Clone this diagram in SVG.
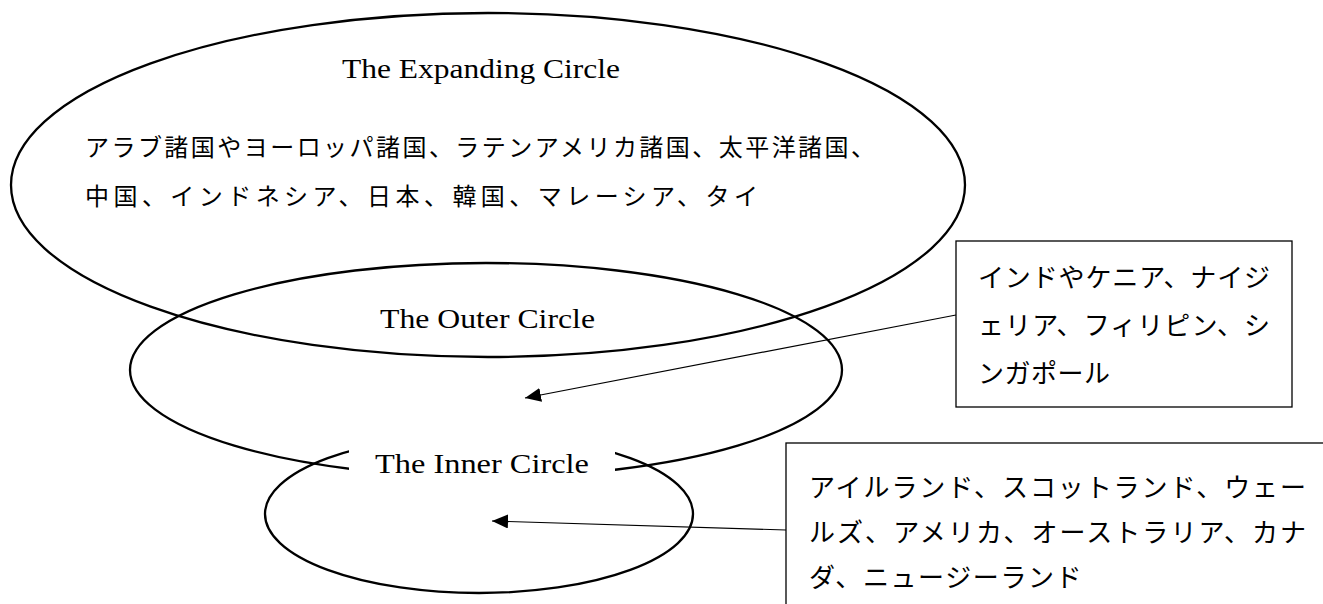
<svg xmlns="http://www.w3.org/2000/svg" width="1323" height="604" viewBox="0 0 1323 604">
<style>
.ell{fill:none;stroke:#000;stroke-width:2.3}
.box{fill:#fff;stroke:#000;stroke-width:1.3}
.lat{font-family:"Liberation Serif",serif;font-size:28px;fill:#000}
.jp{font-family:"Noto Sans CJK JP",sans-serif;font-size:24px;fill:#000}
.jb{font-family:"Noto Sans CJK JP",sans-serif;font-size:26px;fill:#000}
.conn{stroke:#000;stroke-width:1.2;fill:none}
</style>
<defs>
<marker id="ah" viewBox="0 0 16 14" refX="16" refY="7" markerWidth="16" markerHeight="14" markerUnits="userSpaceOnUse" orient="auto">
<path d="M0,0 L16,7 L0,14 z" fill="#000"/>
</marker>
</defs>
<rect width="1323" height="604" fill="#fff"/>
<g id="expanding">
<ellipse class="ell" cx="488" cy="185" rx="477" ry="172"/>
<text class="lat" x="342" y="78" textLength="278" lengthAdjust="spacingAndGlyphs">The Expanding Circle</text>
<text class="jp" x="85" y="156" textLength="790" lengthAdjust="spacing">アラブ諸国やヨーロッパ諸国、ラテンアメリカ諸国、太平洋諸国、</text>
<text class="jp" x="85" y="205" textLength="673" lengthAdjust="spacing">中国、インドネシア、日本、韓国、マレーシア、タイ</text>
</g>
<g id="outer">
<ellipse class="ell" cx="486" cy="370" rx="356" ry="107"/>
<text class="lat" x="380" y="328" textLength="215" lengthAdjust="spacingAndGlyphs">The Outer Circle</text>
</g>
<g id="inner">
<ellipse class="ell" cx="479" cy="514" rx="214" ry="79"/>
<rect x="349" y="431" width="266" height="50" fill="#fff"/>
<text class="lat" x="375" y="473" textLength="214" lengthAdjust="spacingAndGlyphs">The Inner Circle</text>
</g>
<g id="connectors">
<line class="conn" x1="956" y1="315" x2="525" y2="398" marker-end="url(#ah)"/>
<line class="conn" x1="786" y1="530" x2="492" y2="521" marker-end="url(#ah)"/>
</g>
<g id="box-outer">
<rect class="box" x="956" y="241" width="336" height="166"/>
<text class="jb" x="978" y="287" textLength="292" lengthAdjust="spacing">インドやケニア、ナイジ</text>
<text class="jb" x="978" y="335" textLength="292" lengthAdjust="spacing">ェリア、フィリピン、シ</text>
<text class="jb" x="978" y="383" letter-spacing="0.5">ンガポール</text>
</g>
<g id="box-inner">
<rect class="box" x="786" y="443" width="545" height="170"/>
<text class="jb" x="809" y="497" textLength="497" lengthAdjust="spacing">アイルランド、スコットランド、ウェー</text>
<text class="jb" x="809" y="542" textLength="497" lengthAdjust="spacing">ルズ、アメリカ、オーストラリア、カナ</text>
<text class="jb" x="809" y="587" letter-spacing="1.6">ダ、ニュージーランド</text>
</g>
</svg>
